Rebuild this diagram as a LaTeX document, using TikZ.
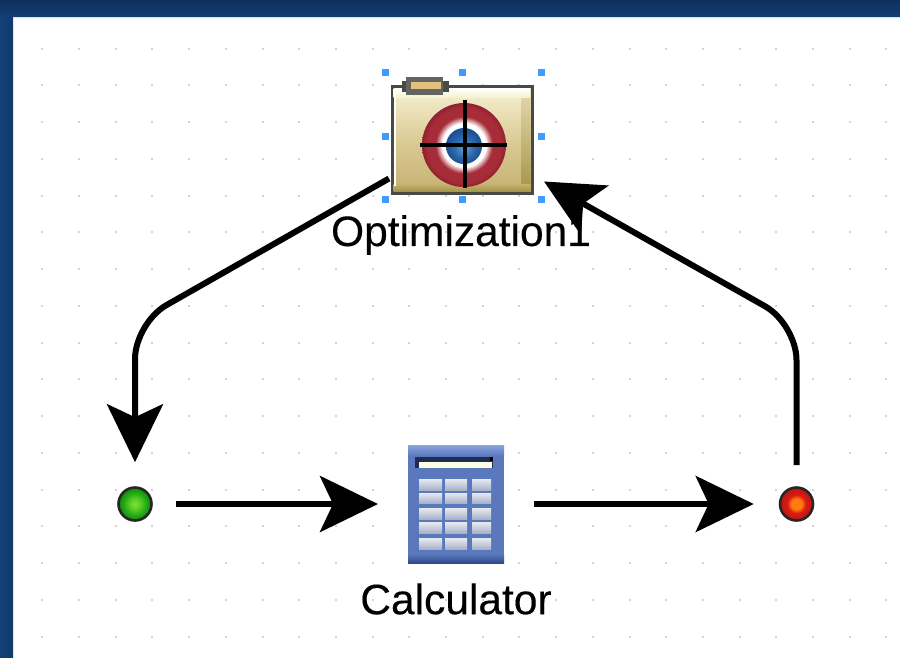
\documentclass[tikz,border=0pt]{standalone}
\usepackage{fontspec}
\setmainfont{Liberation Sans}[FakeBold=0.25]
\usetikzlibrary{arrows.meta,calc}
\definecolor{frameA}{HTML}{0F2F5E}
\definecolor{frameB}{HTML}{124077}
\definecolor{handle}{HTML}{3F9BFF}
\definecolor{griddot}{HTML}{D4D4D4}
\definecolor{folderedge}{HTML}{4A4A44}
\definecolor{foldertop}{HTML}{F6F2D4}
\definecolor{foldermid}{HTML}{DCCB96}
\definecolor{folderlow}{HTML}{C4B070}
\definecolor{folderdark}{HTML}{A39448}
\definecolor{calcA}{HTML}{8AA4DC}
\definecolor{calcB}{HTML}{5A78BE}
\definecolor{calcC}{HTML}{2F4A88}
\definecolor{keyA}{HTML}{E8EAF0}
\definecolor{keyB}{HTML}{A9B2C8}
\definecolor{ringred}{HTML}{A62C38}
\definecolor{ringdark}{HTML}{8E2230}
\definecolor{ballA}{HTML}{5AA0DC}
\definecolor{ballB}{HTML}{1B4F94}
\definecolor{greenA}{HTML}{80E030}
\definecolor{greenB}{HTML}{1CA812}
\definecolor{redA}{HTML}{FF7A10}
\definecolor{redB}{HTML}{DC1A14}
\pgfdeclareradialshading{greenport}{\pgfpoint{0bp}{0bp}}{color(0bp)=(greenA); color(7bp)=(greenA!70!greenB); color(18bp)=(greenB); color(25bp)=(greenB!80!black); color(50bp)=(greenB!80!black)}
\pgfdeclareradialshading{redport}{\pgfpoint{0bp}{0bp}}{color(0bp)=(redA); color(8bp)=(redA); color(14bp)=(redB); color(25bp)=(redB!85!black); color(50bp)=(redB!85!black)}
\pgfdeclareradialshading{ringshade}{\pgfpoint{0bp}{0bp}}{color(0bp)=(white); color(13bp)=(white); color(17bp)=(ringred); color(22bp)=(ringred); color(25bp)=(ringdark); color(50bp)=(ringdark)}
\pgfdeclareradialshading{ballshade}{\pgfpoint{0bp}{-3bp}}{color(0bp)=(ballA); color(14bp)=(ballB!70!ballA); color(25bp)=(ballB); color(50bp)=(ballB)}
\tikzset{
  conn/.style={draw=black,line width=6pt,rounded corners=36pt,
    -{Stealth[length=58pt,width=56pt,inset=13pt]}},
  lbl/.style={font=\fontsize{42.5pt}{46pt}\selectfont\bfseries\mdseries,inner sep=0pt,text=black},
  hnd/.style={fill=handle,draw=none},
  port/.style={circle,draw=black!85,line width=2.6pt,minimum size=33pt,inner sep=0pt},
  keycap/.style={top color=keyA,bottom color=keyB,draw=none},
  iconbox/.style={rectangle,inner sep=0pt,outer sep=0pt}
}
\begin{document}
\begin{tikzpicture}[x=1pt,y=-1pt]
\useasboundingbox (0,0) rectangle (900,657);
% window frame and canvas
\fill[white] (0,0) rectangle (900,657);
\shade[top color=frameA,bottom color=frameB] (0,0) rectangle (900,17);
\shade[left color=frameB,right color=frameB!90!black] (0,17) rectangle (13,657);
\fill[frameA!15!white] (13,16.5) rectangle (900,17.5);
% grid dots
\foreach \i in {0,...,23}{\foreach \j in {0,...,16}{
  \fill[griddot] ({42.3+36.7*\i-1},{48.5+36.75*\j-1}) rectangle ++(2,2);}}
% optimisation icon
\node[iconbox,draw=folderedge,line width=3pt,minimum width=140pt,minimum height=107pt,
  top color=foldertop,bottom color=folderlow,middle color=foldermid] (optim) at (462,140) {};
\shade[top color=foldermid!60!foldertop,bottom color=folderdark] (521,95) -- (530.5,88) -- (530.5,191.5) -- (521,184) -- cycle;
\shade[top color=folderlow,bottom color=folderdark] (393.5,184) rectangle (530.5,191.5);
\shade[top color=white,bottom color=foldertop] (393.5,88) rectangle (530,97);
\fill[white] (393.5,88) rectangle (396,186);
\fill[folderedge] (402,81) rectangle (449,92);
\fill[folderedge!85!white] (406,77) rectangle (443,95);
\fill[foldermid!85!orange] (411,82) rectangle (441,89);
\shade[shading=ringshade] (464,145) circle (42);
\shade[shading=ballshade] (464,146) circle (18);
\draw[black,line width=3.4pt] (420,145) -- (507,145) (465,100) -- (465,188);
\foreach \hx/\hy in {385/72,462/72,541/72,385/136,541/136,385/199,462/199,541/199}{
  \fill[hnd] (\hx-3.5,\hy-3.5) rectangle ++(7,7);}
\node[lbl] (optimlabel) at (461,235) {\addfontfeature{FakeBold=0.25}Optimization1};
% calculator icon
\node[iconbox,minimum width=96pt,minimum height=118pt,fill=calcB] (calc) at (456,504) {};
\shade[top color=calcA,bottom color=calcB] (408,445) rectangle (504,456);
\shade[top color=calcB,bottom color=calcC] (408,554) rectangle (504,563);
\fill[calcC!60!black] (415,457) rectangle (493,468);
\fill[black] (490,457) rectangle (493,461);
\fill[yellow!12!white] (419,462) rectangle (492,468);
\foreach \ky/\kh in {479/11,493/10,508/11,522/11,538/11}{
  \foreach \kx/\kw in {419/23,445/22,472/19}{
    \shade[keycap] (\kx,\ky) rectangle ++(\kw,\kh);}}
\node[lbl] (calclabel) at (456,599) {\addfontfeature{FakeBold=0.25}Calculator};
% ports
\node[port,shade,shading=greenport] (start) at (135,504) {};
\node[port,shade,shading=redport] (finish) at (796.5,504) {};
% connectors
\coordinate (leftbend) at (135,323);
\coordinate (rightbend) at (796.5,324);
\draw[conn,shorten >=24pt] ([shift={(-3,-15)}]optim.south west) -- (leftbend) -- (start);
\draw[conn,shorten <=23pt,shorten >=30pt] (start) -- (calc);
\draw[conn,shorten <=30pt,shorten >=25pt] (calc) -- (finish);
\draw[conn,shorten <=39pt] (finish.center) -- (rightbend) -- ([shift={(12,-12)}]optim.south east);
\end{tikzpicture}
\end{document}
